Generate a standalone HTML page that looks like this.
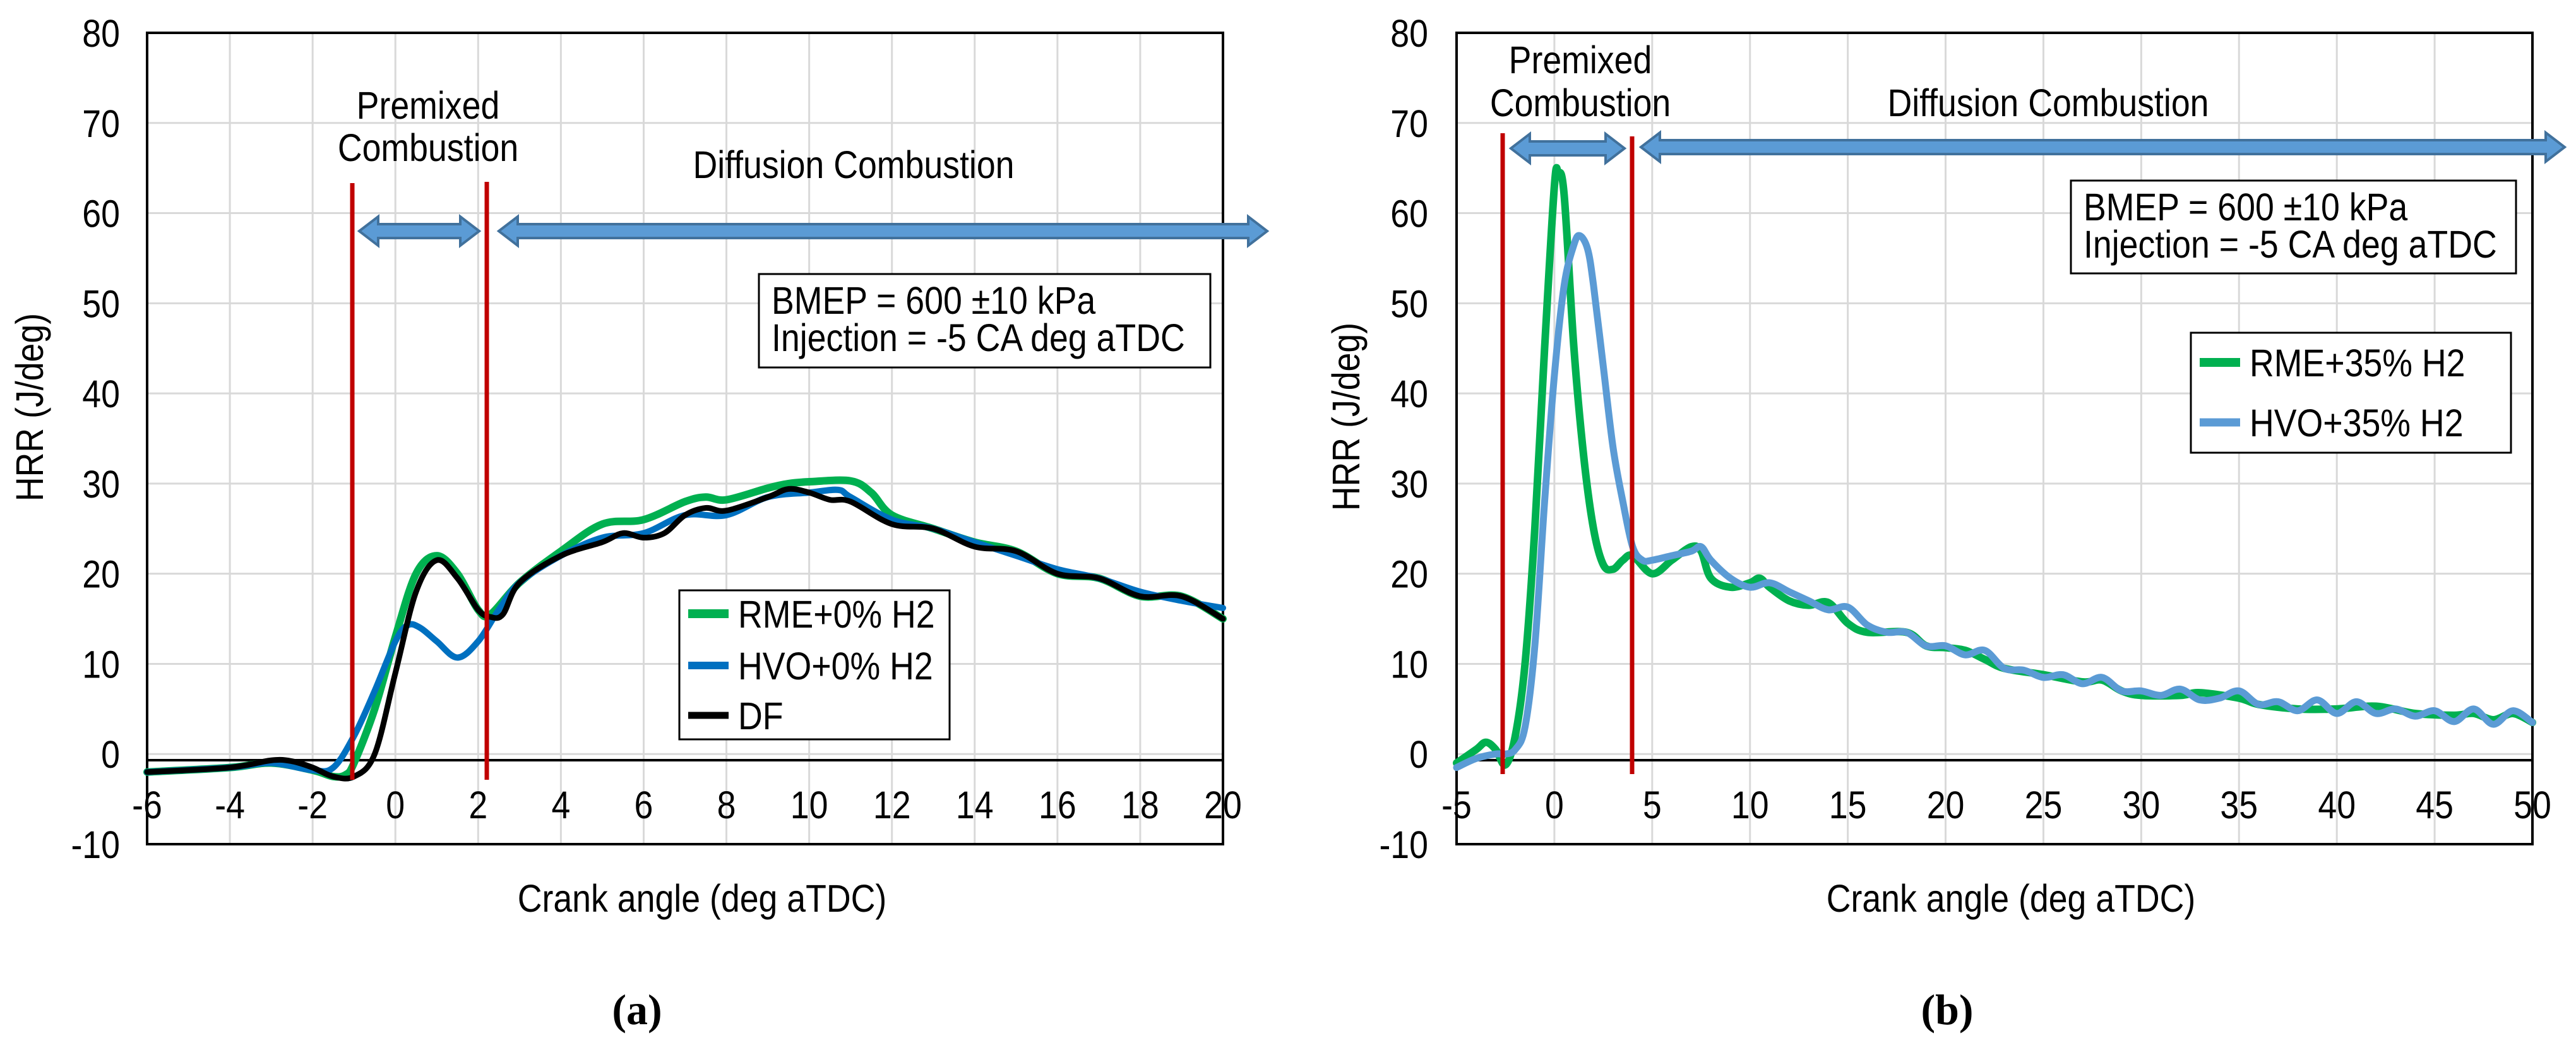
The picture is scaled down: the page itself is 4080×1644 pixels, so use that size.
<!DOCTYPE html>
<html><head><meta charset="utf-8"><style>
html,body{margin:0;padding:0;background:#fff;}
svg{display:block;font-family:"Liberation Sans",Arial,sans-serif;}
</style></head><body>
<svg id="svg" width="4080" height="1644" viewBox="0 0 4080 1644" xmlns="http://www.w3.org/2000/svg"></svg>
<script>
// ---------- Data (a) ----------
const aRmeX=[-6,-4,-3,-2,-1.5,-1.2,-1,-0.5,0,0.5,1,1.5,2,2.3,3,4,5,6,7,7.5,8,9,9.5,10,11,11.5,12,13,14,15,16,17,18,19,20];
const aRmeY=[-2,-1.5,-1,-1.8,-2.5,-2.3,-1,5,13,20,22,20,16,15.5,19,22.5,25.5,26,28,28.5,28.2,29.5,30,30.2,30.3,29,26.5,25,23.5,22.5,20,19.5,17.5,17.5,15];
const aHvoX=[-6,-4,-3,-2,-1.5,-1,-0.5,0,0.3,0.6,1,1.5,2,2.5,3,4,5,6,7,8,9,10,10.7,11,12,13,14,15,16,17,18,19,20];
const aHvoY=[-2,-1.5,-1,-1.8,-1.5,2,7,12.5,14.3,14,12.5,10.7,12.5,16,19,22,24,24.5,26.5,26.5,28.5,29,29.3,28.5,26,25,23.5,22,20.5,19.5,18,17,16.2];
const aDfX=[-6,-4,-3,-2.5,-2,-1.5,-1,-0.5,0,0.5,1,1.5,2,2.3,2.6,3,4,5,5.5,6,6.5,7,7.5,8,9,9.5,10,10.5,11,12,13,14,15,16,17,18,19,20];
const aDfY=[-2,-1.5,-0.7,-0.8,-1.5,-2.5,-2.5,0,9,18,21.5,19.5,16,15.2,15.5,19,22,23.5,24.5,24,24.5,26.5,27.3,27,28.5,29.4,29,28.2,28,25.5,25,23,22.5,20,19.5,17.5,17.5,15];
// ---------- Data (b) ----------
const bRmeX=[-5,-4,-3.5,-3,-2.5,-2,-1.5,-1,-0.5,0,0.2,0.5,1,1.5,2,2.5,3,3.5,4,5,6,7,7.5,8,9,10,10.5,11,12,13,14,15,16,18,19,20,21,22,23,25,27,28,29,30,32,33,35,36,38,40,42,44,46,47,48,49,50];
const bRmeY=[-1,0.5,1.3,0.5,-1.2,2,10,25,45,63,64.5,62,45,33,25,21,20.5,21.5,22,20,21.5,23,22.5,19.5,18.5,19,19.5,18.5,17,16.5,16.8,14.5,13.5,13.5,12,11.8,11.5,10.5,9.5,8.8,8,8.2,7,6.5,6.5,6.8,6.2,5.5,5,5,5.3,4.5,4.3,4.5,3.8,4.5,3.5];
const bHvoX=[-5,-4,-3,-2.5,-2,-1.5,-1,-0.5,0,0.5,1,1.3,1.7,2,2.5,3,3.5,4,4.5,5,6,7,7.5,8,9,10,11,12,13,14,15,16,17,18,19,20,21,22,23,24,25,26,27,28,29,30,31,32,33,34,35,36,37,38,39,40,41,42,43,44,45,46,47,48,49,50];
const bHvoY=[-1.5,-0.5,0,0,0.5,3,12,28,42,52,56.5,57.5,56,52,43,34,28,23,21.5,21.5,22,22.5,23,21.5,19.5,18.5,19,18,17,16,16.3,14.3,13.5,13.5,12,12,11,11.5,9.5,9.3,8.5,8.8,7.8,8.5,7,7,6.5,7.2,6,6.2,7,5.5,5.8,4.8,6,4.5,5.8,4.5,5,4.2,4.8,3.6,5,3.3,4.8,3.5];
const yTicks=[80,70,60,50,40,30,20,10,0,-10];
const aXTicks=[-6,-4,-2,0,2,4,6,8,10,12,14,16,18,20];
const bXTicks=[-5,0,5,10,15,20,25,30,35,40,45,50];

const NS="http://www.w3.org/2000/svg";
const svg=document.getElementById('svg');
const FS=61, SX=0.88;
function el(tag,attrs,parent){const e=document.createElementNS(NS,tag);for(const k in attrs)e.setAttribute(k,attrs[k]);(parent||svg).appendChild(e);return e;}
function txt(s,x,y,attrs,parent,rot){const a=Object.assign({x:0,y:0,'font-size':FS},attrs);a.transform=`translate(${x},${y})`+(rot?` rotate(${rot})`:'')+` scale(${SX},1)`;const e=el('text',a,parent);e.textContent=s;return e;}
function smooth(pts){let d=`M${pts[0][0]},${pts[0][1]}`;for(let i=0;i<pts.length-1;i++){const p0=pts[Math.max(0,i-1)],p1=pts[i],p2=pts[i+1],p3=pts[Math.min(pts.length-1,i+2)];const c1=[p1[0]+(p2[0]-p0[0])/6,p1[1]+(p2[1]-p0[1])/6],c2=[p2[0]-(p3[0]-p1[0])/6,p2[1]-(p3[1]-p1[1])/6];d+=` C${c1[0]},${c1[1]} ${c2[0]},${c2[1]} ${p2[0]},${p2[1]}`;}return d;}
function dblArrow(g,x1,x2,y,name){const h=11,H=23,hl=30;const p=`${x1},${y} ${x1+hl},${y-H} ${x1+hl},${y-h} ${x2-hl},${y-h} ${x2-hl},${y-H} ${x2},${y} ${x2-hl},${y+H} ${x2-hl},${y+h} ${x1+hl},${y+h} ${x1+hl},${y+H}`;const a=el('polygon',{points:p,fill:'#5B9BD5',stroke:'#41719C','stroke-width':4},g);}

function chart(o){
  const g=el('g',{});
  const L=o.L,R=o.R,T=52,B=1337;
  const sx=v=>L+(v-o.xmin)/(o.xmax-o.xmin)*(R-L);
  const sy=v=>B-(v+10)/90*(B-T);
  for(const t of yTicks){const l=el('line',{x1:L,x2:R,y1:sy(t),y2:sy(t),stroke:'#D9D9D9','stroke-width':3},g);}
  for(const t of o.xt){const l=el('line',{x1:sx(t),x2:sx(t),y1:T,y2:B,stroke:'#D9D9D9','stroke-width':3},g);}
  const fr=el('rect',{x:L,y:T,width:R-L,height:B-T,fill:'none',stroke:'#000','stroke-width':4},g);
  const ax=el('line',{x1:L,x2:R,y1:1204,y2:1204,stroke:'#000','stroke-width':4},g);
  for(const t of yTicks){const e=txt(String(t),o.yLabX,sy(t)+22,{'text-anchor':'end'},g);}
  for(const t of o.xt){const e=txt(String(t),sx(t),1296,{'text-anchor':'middle'},g);}
  for(const s of o.series){const pts=s.x.map((v,i)=>[sx(v),sy(s.y[i])]);const p=el('path',{d:smooth(pts),fill:'none',stroke:s.c,'stroke-width':s.w,'stroke-linejoin':'round','stroke-linecap':'round'},g);}
  for(const r of o.red){const l=el('line',{x1:r[0],x2:r[0],y1:r[1],y2:r[2],stroke:'#C00000','stroke-width':7},g);}
  dblArrow(g,o.a1[0],o.a1[1],o.a1[2],'premixed-arrow');
  dblArrow(g,o.a2[0],o.a2[1],o.a2[2],'diffusion-arrow');
  let e=txt('Premixed',o.pm[0],o.pm[1],{'text-anchor':'middle'},g);
  e=txt('Combustion',o.pm[0],o.pm[2],{'text-anchor':'middle'},g);
  e=txt('Diffusion Combustion',o.df[0],o.df[1],{'text-anchor':'middle'},g);
  const bx=o.box;const br=el('rect',{x:bx[0],y:bx[1],width:bx[2],height:bx[3],fill:'#fff',stroke:'#000','stroke-width':3},g);
  e=txt('BMEP = 600 ±10 kPa',bx[0]+20,bx[1]+63,{},g);
  e=txt('Injection = -5 CA deg aTDC',bx[0]+20,bx[1]+122,{},g);
  const lg=o.leg;const lr=el('rect',{x:lg[0],y:lg[1],width:lg[2],height:lg[3],fill:'#fff',stroke:'#000','stroke-width':3},g);
  o.series.forEach((s,i)=>{const y=o.legY[i];const l=el('line',{x1:lg[0]+14,x2:lg[0]+78,y1:y,y2:y,stroke:s.c,'stroke-width':s.w+2},g);const t=txt(s.label,lg[0]+93,y+22,{},g);});
  e=txt(o.yt,o.ytX,o.ytY,{'text-anchor':'middle','xml:space':'preserve'},g,-90);
  e=txt('Crank angle (deg aTDC)',o.xtX,1444,{'text-anchor':'middle'},g);
  e=el('text',{x:o.capX,y:1622,'font-size':68,'font-weight':'bold','text-anchor':'middle','font-family':'Liberation Serif, serif'},g);e.textContent=o.cap;
}

chart({name:'chart-a',L:233,R:1937,xmin:-6,xmax:20,xt:aXTicks,yLabX:190,
 series:[{x:aRmeX,y:aRmeY,c:'#00B050',w:12,name:'rme-0-line',label:'RME+0% H2'},{x:aHvoX,y:aHvoY,c:'#0070C0',w:10,name:'hvo-0-line',label:'HVO+0% H2'},{x:aDfX,y:aDfY,c:'#000000',w:9,name:'df-line',label:'DF'}],
 red:[[558,290,1235],[771,288,1235]],a1:[569,759,366],a2:[790,2007,366],pm:[678,188,255],df:[1352,282],
 box:[1202,434,715,148],leg:[1076,935,428,236],legY:[972,1054,1133],yt:'HRR  (J/deg)',ytX:68,ytY:645,xtX:1112,cap:'(a)',capX:1009});
chart({name:'chart-b',L:2307,R:4011,xmin:-5,xmax:50,xt:bXTicks,yLabX:2262,
 series:[{x:bRmeX,y:bRmeY,c:'#00B050',w:12,name:'rme-35-line',label:'RME+35% H2'},{x:bHvoX,y:bHvoY,c:'#5B9BD5',w:11,name:'hvo-35-line',label:'HVO+35% H2'}],
 red:[[2380,211,1226],[2585,216,1226]],a1:[2393,2573,235],a2:[2599,4062,233],pm:[2503,116,184],df:[3244,184],
 box:[3280,286,705,147],leg:[3470,527,507,190],legY:[574,669],yt:'HRR (J/deg)',ytX:2153,ytY:660,xtX:3185,cap:'(b)',capX:3084});
</script>
</body></html>
